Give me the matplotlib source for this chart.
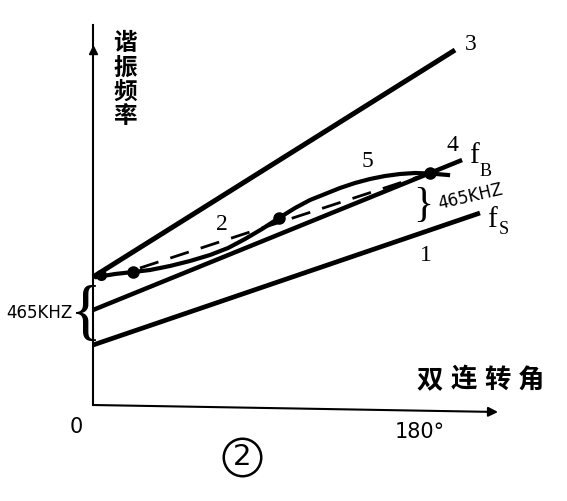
import matplotlib
matplotlib.use('Agg')
import matplotlib.pyplot as plt
from matplotlib import font_manager

# x: tuning angle (degrees), y: resonant frequency (arbitrary units)
line1_x = [0, 214.3]
line1_y = [5.8, 19.0]
line3_x = [0, 200.5]
line3_y = [12.6, 35.3]
line4_x = [0, 204.4]
line4_y = [9.3, 24.3]
curve_x = [2.2, 12.2, 22.2, 31.6, 42.6, 53.7, 64.8, 74.8, 84.2, 93.6, 103.0,
           111.9, 120.2, 128.5, 136.8, 145.1, 153.4, 161.7, 170.0, 178.3, 186.6, 196.6]
curve_y = [12.6, 12.9, 13.1, 13.3, 13.7, 14.2, 14.8, 15.5, 16.4, 17.4, 18.5,
           19.5, 20.3, 20.9, 21.5, 22.0, 22.4, 22.7, 22.9, 23.0, 22.95, 22.8]
dash_x = [26.0, 180.0]
dash_y = [13.5, 22.6]
dots_x = [22.2, 103.0, 186.6]
dots_y = [13.1, 18.5, 22.95]
line_labels = ['1', '2', '3', '4', '5']
ylabel_chars = ['谐', '振', '频', '率']
xlabel_chars = ['双', '连', '转', '角']
tick_labels = ['0', '180°']
gap_label = '465KHZ'

names = [f.name for f in font_manager.fontManager.ttflist]
narrow = 'Liberation Sans Narrow' if 'Liberation Sans Narrow' in names else 'DejaVu Sans'
serif = 'Liberation Serif' if 'Liberation Serif' in names else 'DejaVu Serif'
cjk = ['Noto Sans CJK SC', 'DejaVu Sans']

fig = plt.figure(figsize=(5.67, 5.01), dpi=100)
ax = fig.add_axes([0, 0, 1, 1])
ax.set_xlim(-51.5, 262.5)
ax.set_ylim(-9.8, 40.3)
ax.axis('off')

# axes
ax.plot([0, 0], [-0.2, 37.8], color='black', lw=1.5)
ax.plot([0], [35.3], marker='^', color='black', ms=6)
ax.annotate('', xy=(224.3, -0.9), xytext=(0, -0.2),
            arrowprops=dict(arrowstyle='-|>', color='black', lw=1.5,
                            mutation_scale=14, shrinkA=0, shrinkB=0))

# lines
ax.plot(line1_x, line1_y, color='black', lw=3.4, solid_capstyle='butt')
ax.plot(line3_x, line3_y, color='black', lw=3.6, solid_capstyle='butt')
ax.plot(line4_x, line4_y, color='black', lw=3.2, solid_capstyle='butt')
ax.plot(curve_x, curve_y, color='black', lw=3.0, solid_joinstyle='round')
ax.plot(dash_x, dash_y, color='black', lw=2.0, dashes=(7, 4.5))
ax.plot(dots_x, dots_y, 'o', color='black', ms=8)
ax.plot([4.5], [12.8], 'o', color='black', ms=7)

# labels for lines
ax.text(184.4, 14.7, line_labels[0], fontsize=17, family=serif, ha='center', va='center')
ax.text(71.4, 17.8, line_labels[1], fontsize=17, family=serif, ha='center', va='center')
ax.text(209.3, 35.8, line_labels[2], fontsize=17, family=serif, ha='center', va='center')
ax.text(198.8, 25.7, line_labels[3], fontsize=17, family=serif, ha='center', va='center')
ax.text(151.8, 24.1, line_labels[4], fontsize=17, family=serif, ha='center', va='center')

ax.text(211.0, 24.7, 'f', fontsize=21, family=serif, ha='center', va='center')
ax.text(217.6, 23.1, 'B', fontsize=13, family=serif, ha='center', va='center')
ax.text(221.0, 18.3, 'f', fontsize=21, family=serif, ha='center', va='center')
ax.text(227.6, 17.3, 'S', fontsize=13, family=serif, ha='center', va='center')

# 465 kHz braces
ax.text(182.8, 19.7, '}', fontsize=30, family=serif, ha='center', va='center')
ax.text(209.0, 20.6, gap_label, fontsize=12, family=narrow, ha='center', va='center',
        rotation=13)
ax.text(-3.9, 8.7, '{', fontsize=48, family=serif, ha='center', va='center')
ax.text(-29.5, 9.0, gap_label, fontsize=12, family=narrow, ha='center', va='center')

# axis titles
for ch, yv in zip(ylabel_chars, [36.0, 33.5, 31.1, 28.7]):
    ax.text(17.7, yv, ch, fontsize=17, family=cjk, fontweight='bold',
            ha='center', va='center')
for ch, xv in zip(xlabel_chars, [186.6, 205.4, 224.2, 242.5]):
    ax.text(xv, 2.3, ch, fontsize=19, family=cjk, fontweight='bold',
            ha='center', va='center')

ax.text(-9.4, -2.4, tick_labels[0], fontsize=15, family=narrow, ha='center', va='center')
ax.text(181.2, -2.9, tick_labels[1], fontsize=15, family=narrow, ha='center', va='center')

# figure number
ax.plot([82.5], [-5.4], 'o', mfc='none', mec='black', ms=27, mew=1.8)
ax.text(82.5, -5.4, '2', fontsize=21, family='DejaVu Sans', ha='center', va='center')

fig.savefig('out.png', dpi=100)
